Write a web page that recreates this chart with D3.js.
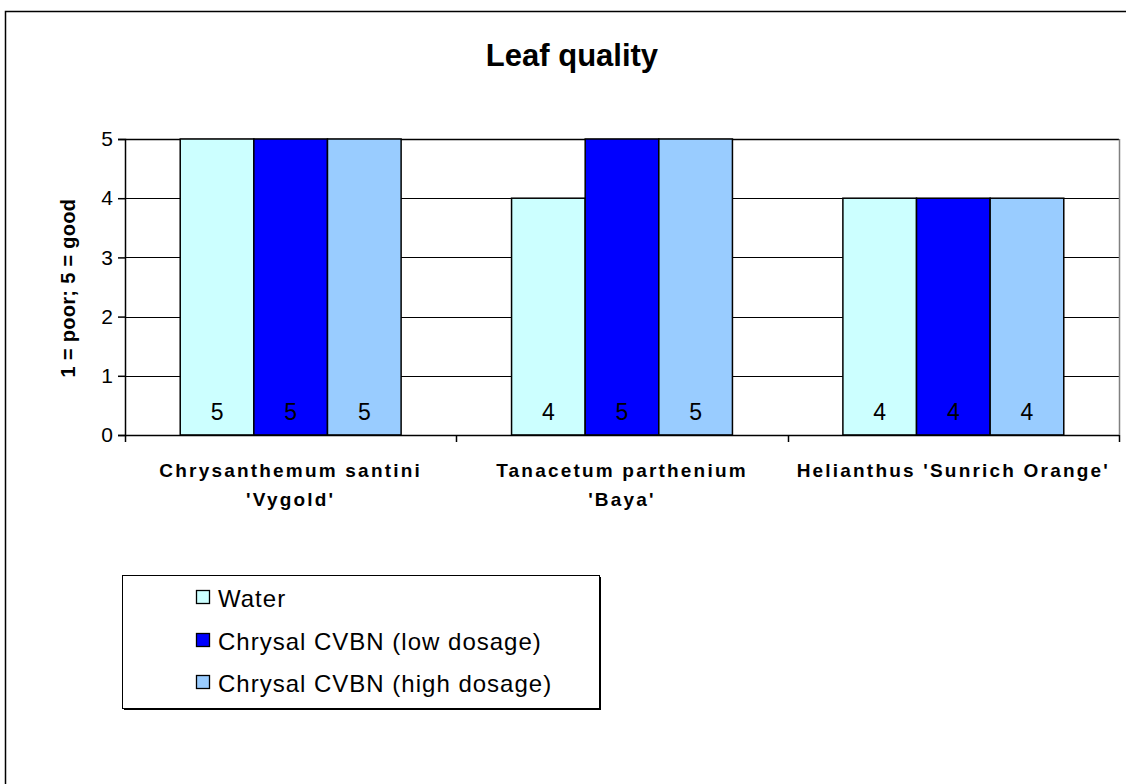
<!DOCTYPE html>
<html>
<head>
<meta charset="utf-8">
<script src="https://cdn.jsdelivr.net/npm/d3@7"></script>
<style>
  html, body { margin: 0; padding: 0; background: #fff; }
  svg { display: block; font-family: Arial, "Liberation Sans", sans-serif; }
</style>
</head>
<body>
<svg id="chart" width="1126" height="784"></svg>
<script>
const title = "Leaf quality";
const yAxisTitle = "1 = poor; 5 = good";
const categories = [
  ["Chrysanthemum santini", "'Vygold'"],
  ["Tanacetum parthenium", "'Baya'"],
  ["Helianthus 'Sunrich Orange'"]
];
const seriesNames = ["Water", "Chrysal CVBN (low dosage)", "Chrysal CVBN (high dosage)"];
const seriesColors = ["#CCFFFF", "#0000FF", "#99CCFF"];
const water = [5, 4, 4];
const lowDosage = [5, 5, 4];
const highDosage = [5, 5, 4];
const yTicks = [0, 1, 2, 3, 4, 5];

const seriesValues = [water, lowDosage, highDosage];
const catKeys = categories.map(c => c.join(" "));

const svg = d3.select("#chart");

// outer chart border (extends past the window right and bottom)
svg.append("rect")
  .attr("x", 5.5).attr("y", 11.5)
  .attr("width", 1200).attr("height", 900)
  .attr("fill", "#fff").attr("stroke", "#000").attr("stroke-width", 1.5);

const plot = { left: 125, right: 1119, top: 139, bottom: 435 };

const x = d3.scaleBand().domain(catKeys).range([plot.left, plot.right]).paddingInner(0).paddingOuter(0);
const xs = d3.scaleBand().domain(seriesNames).range([0, x.bandwidth()]).paddingInner(0).paddingOuter(0.75);
const y = d3.scaleLinear().domain([0, 5]).range([plot.bottom, plot.top]);

// title
svg.append("text")
  .attr("x", 572).attr("y", 66)
  .attr("text-anchor", "middle")
  .attr("font-size", 31).attr("font-weight", "bold")
  .text(title);

// gridlines
svg.append("g")
  .selectAll("line")
  .data(yTicks.filter(t => t > 0 && t < 5))
  .join("line")
  .attr("x1", plot.left).attr("x2", plot.right)
  .attr("y1", d => Math.round(y(d)) + 0.5).attr("y2", d => Math.round(y(d)) + 0.5)
  .attr("stroke", "#000").attr("stroke-width", 1.2);

// plot border top & right
svg.append("line")
  .attr("x1", plot.left).attr("x2", plot.right)
  .attr("y1", plot.top + 0.5).attr("y2", plot.top + 0.5)
  .attr("stroke", "#000").attr("stroke-width", 1.5);
svg.append("line")
  .attr("x1", plot.right + 0.5).attr("x2", plot.right + 0.5)
  .attr("y1", plot.top).attr("y2", plot.bottom)
  .attr("stroke", "#808080").attr("stroke-width", 1.5);

// bars
const barData = [];
categories.forEach((c, i) => {
  seriesNames.forEach((s, j) => {
    barData.push({ cat: catKeys[i], series: s, value: seriesValues[j][i], color: seriesColors[j] });
  });
});

const bars = svg.append("g");
bars.selectAll("rect")
  .data(barData)
  .join("rect")
  .attr("x", d => x(d.cat) + xs(d.series))
  .attr("y", d => y(d.value))
  .attr("width", xs.bandwidth())
  .attr("height", d => y(0) - y(d.value))
  .attr("fill", d => d.color)
  .attr("stroke", "#000").attr("stroke-width", 1.5);

// data labels
bars.selectAll("text")
  .data(barData)
  .join("text")
  .attr("x", d => x(d.cat) + xs(d.series) + xs.bandwidth() / 2)
  .attr("y", plot.bottom - 15)
  .attr("text-anchor", "middle")
  .attr("font-size", 23)
  .attr("fill", "#000")
  .text(d => d.value);

// y axis
const yAxis = d3.axisLeft(y).tickValues(yTicks).tickSize(7).tickPadding(5).tickFormat(d3.format("d"));
const yg = svg.append("g").attr("transform", `translate(${plot.left},0)`).call(yAxis);
yg.attr("font-size", 21).attr("font-family", "Arial, 'Liberation Sans', sans-serif");
yg.select(".domain").attr("stroke", "#000").attr("stroke-width", 1.5);
yg.selectAll(".tick line").attr("stroke", "#000").attr("stroke-width", 1.5);
yg.selectAll(".tick text").attr("font-size", 21).attr("fill", "#000");

// x axis (baseline + category boundary ticks)
svg.append("line")
  .attr("x1", plot.left).attr("x2", plot.right)
  .attr("y1", plot.bottom + 0.5).attr("y2", plot.bottom + 0.5)
  .attr("stroke", "#000").attr("stroke-width", 1.5);
const boundaries = catKeys.map(k => x(k)).concat([x(catKeys[catKeys.length - 1]) + x.bandwidth()]);
svg.append("g").selectAll("line")
  .data(boundaries)
  .join("line")
  .attr("x1", d => Math.round(d) + 0.5).attr("x2", d => Math.round(d) + 0.5)
  .attr("y1", plot.bottom).attr("y2", plot.bottom + 7)
  .attr("stroke", "#000").attr("stroke-width", 1.5);

// category labels
const catG = svg.append("g");
categories.forEach((lines, i) => {
  const t = catG.append("text")
    .attr("x", x(catKeys[i]) + x.bandwidth() / 2)
    .attr("y", 477)
    .attr("text-anchor", "middle")
    .attr("font-size", 19).attr("font-weight", "bold")
    .attr("letter-spacing", "2.2px");
  lines.forEach((ln, k) => {
    t.append("tspan")
      .attr("x", x(catKeys[i]) + x.bandwidth() / 2)
      .attr("dy", k === 0 ? 0 : 29)
      .text(ln);
  });
});

// y axis title
svg.append("text")
  .attr("transform", `translate(75,${288}) rotate(-90)`)
  .attr("text-anchor", "middle")
  .attr("font-size", 20).attr("font-weight", "bold")
  .attr("letter-spacing", "0.3px")
  .text(yAxisTitle);

// legend
const legend = { x: 122, y: 575, w: 477, h: 133 };
svg.append("rect")
  .attr("x", legend.x + 2).attr("y", legend.y + 2)
  .attr("width", legend.w).attr("height", legend.h)
  .attr("fill", "#000");
svg.append("rect")
  .attr("x", legend.x + 0.5).attr("y", legend.y + 0.5)
  .attr("width", legend.w).attr("height", legend.h)
  .attr("fill", "#fff").attr("stroke", "#000").attr("stroke-width", 1);

const rowY = [607, 650, 692];
const lg = svg.append("g").selectAll("g")
  .data(seriesNames)
  .join("g");
lg.append("rect")
  .attr("x", 196.5).attr("y", (d, i) => rowY[i] - 16.5)
  .attr("width", 13).attr("height", 13)
  .attr("fill", (d, i) => seriesColors[i])
  .attr("stroke", "#000").attr("stroke-width", 1.3);
lg.append("text")
  .attr("x", 218).attr("y", (d, i) => rowY[i])
  .attr("font-size", 24)
  .attr("letter-spacing", "1px")
  .text(d => d);
</script>
</body>
</html>
